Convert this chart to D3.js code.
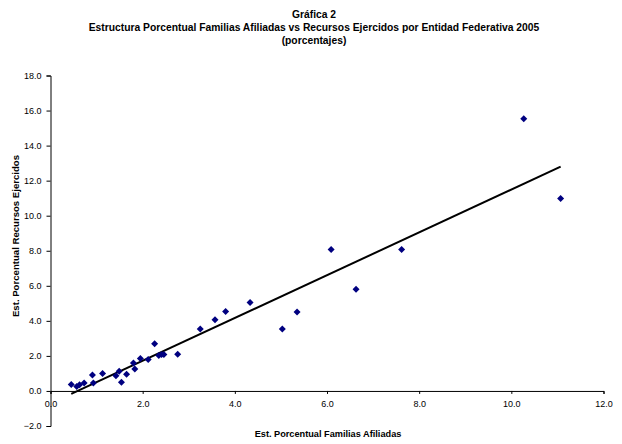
<!DOCTYPE html>
<html><head><meta charset="utf-8">
<script src="https://cdn.jsdelivr.net/npm/d3@7"></script>
<style>body{margin:0;background:#fff}svg{display:block}text{font-family:"Liberation Sans",Arial,sans-serif}</style>
</head><body>
<script>
const titleLines = ["Gráfica 2","Estructura Porcentual Familias Afiliadas vs Recursos Ejercidos por Entidad Federativa 2005","(porcentajes)"];
const xLabel = "Est. Porcentual Familias Afiliadas";
const yLabel = "Est. Porcentual Recursos Ejercidos";
const xAfiliadas = [0.45,0.57,0.63,0.73,0.91,0.93,1.13,1.42,1.49,1.54,1.65,1.80,1.83,1.95,2.12,2.26,2.35,2.41,2.46,2.76,3.25,3.57,3.80,4.33,5.03,5.35,6.09,6.63,7.62,10.27,11.07];
const yRecursos  = [0.37,0.25,0.35,0.46,0.91,0.46,1.00,0.87,1.12,0.50,0.96,1.60,1.25,1.85,1.79,2.70,2.02,2.08,2.08,2.10,3.54,4.06,4.53,5.05,3.53,4.51,8.07,5.80,8.07,15.53,10.98];
const trendSlope = 1.221, trendIntercept = -0.72;
const xTicks = [0,2,4,6,8,10,12];
const yTicks = [-2,0,2,4,6,8,10,12,14,16,18];

const W=622,H=444;
const svg=d3.select("body").append("svg").attr("width",W).attr("height",H);
const x=d3.scaleLinear().domain([0,12]).range([50.5,603.5]);
const y=d3.scaleLinear().domain([-2,18]).range([426,75.5]);

// title
const tt=svg.append("text").attr("text-anchor","middle").attr("font-weight","bold").attr("font-size",10.3);
titleLines.forEach((t,i)=>tt.append("tspan").attr("x",314).attr("y",17.5+i*13).text(t));

// y axis
const ya=svg.append("g").attr("transform",`translate(${x(0)},0)`)
  .call(d3.axisLeft(y).tickValues(yTicks).tickFormat(d3.format(".1f")).tickSize(4).tickPadding(5));
ya.selectAll("text").attr("font-size",9).attr("fill","#000");
ya.selectAll("line,path").attr("stroke","#000");
// x axis at y=0
const xa=svg.append("g").attr("transform",`translate(0,${y(0)})`)
  .call(d3.axisBottom(x).tickValues(xTicks).tickFormat(d3.format(".1f")).tickSize(3).tickSizeOuter(3).tickPadding(7));
xa.selectAll("text").attr("font-size",9).attr("fill","#000");
xa.selectAll("line,path").attr("stroke","#000");

// axis titles
svg.append("text").attr("x",328).attr("y",437).attr("text-anchor","middle").attr("font-weight","bold").attr("font-size",9.2).text(xLabel);
svg.append("text").attr("transform",`translate(19,${236}) rotate(-90)`).attr("text-anchor","middle").attr("font-weight","bold").attr("font-size",9.6).text(yLabel);

// trend line
const xmin=d3.min(xAfiliadas), xmax=d3.max(xAfiliadas);
svg.append("line").attr("x1",x(xmin)).attr("y1",y(trendSlope*xmin+trendIntercept))
  .attr("x2",x(xmax)).attr("y2",y(trendSlope*xmax+trendIntercept)).attr("stroke","#000").attr("stroke-width",2);

// points
const diamond="M0,-3.5L3.5,0L0,3.5L-3.5,0Z";
svg.append("g").selectAll("path").data(xAfiliadas.map((v,i)=>[v,yRecursos[i]])).join("path")
  .attr("d",diamond).attr("transform",d=>`translate(${x(d[0])},${y(d[1])})`).attr("fill","#000080");
</script>
</body></html>
